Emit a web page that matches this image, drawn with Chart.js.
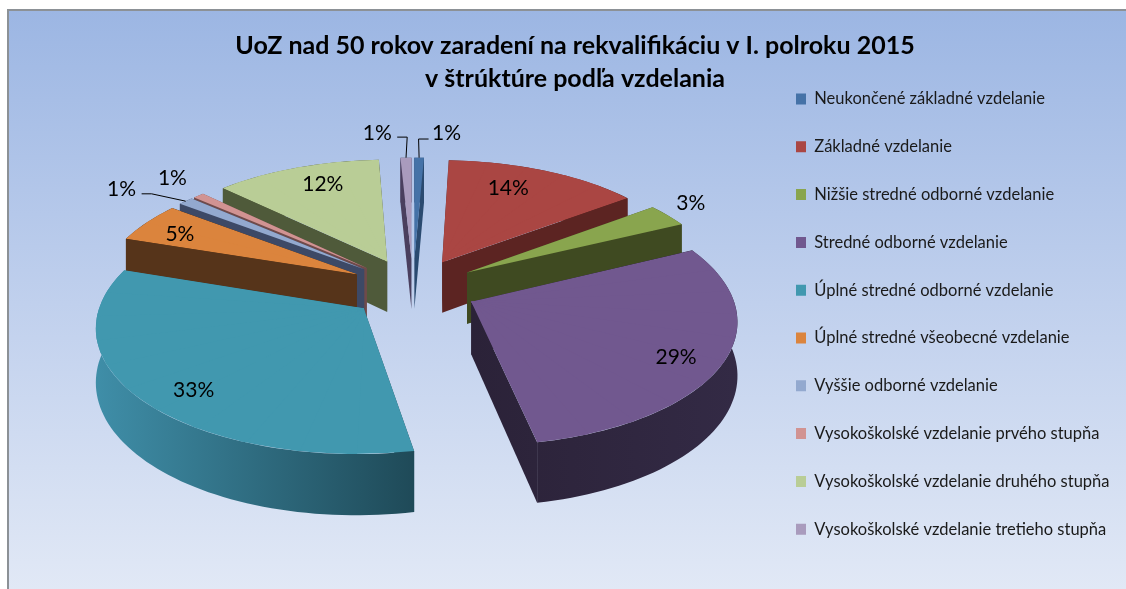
<!DOCTYPE html>
<html><head><meta charset="utf-8">
<style>html,body{margin:0;padding:0;background:#fff;overflow:hidden}#w{position:absolute;left:0;top:0;width:1126px;height:589px}</style>
<script src="https://cdn.jsdelivr.net/npm/chart.js@4"></script>
</head><body><div id="w"><canvas id="c"></canvas></div>
<script>
const categories=["Neukončené základné vzdelanie","Základné vzdelanie","Nižšie stredné odborné vzdelanie","Stredné odborné vzdelanie","Úplné stredné odborné vzdelanie","Úplné stredné všeobecné vzdelanie","Vyššie odborné vzdelanie","Vysokoškolské vzdelanie prvého stupňa","Vysokoškolské vzdelanie druhého stupňa","Vysokoškolské vzdelanie tretieho stupňa"];
const values=[0.7,14.1,3.1,29.2,33.2,5.3,1.1,0.8,12.0,0.8];
const titleLines=["UoZ nad 50 rokov zaradení na rekvalifikáciu v I. polroku 2015","v štrúktúre podľa vzdelania"];
const topColors=["#4572A7","#AA4643","#89A54E","#71588F","#4198AF","#DB843D","#93A9CF","#D19392","#B9CD96","#A99BBD"];
const wallFrom=["#2a4a70","#5c2422","#3f4a21","#2b2238","#3f8ea8","#56341a","#3d4966","#6f4a4a","#4f5a3a","#4a3f5e"];
const wallTo=["#2a4a70","#5c2422","#3f4a21","#332a45","#1f4a58","#56341a","#3d4966","#6f4a4a","#4f5a3a","#4a3f5e"];
const labelReach=[1.55,1.02,1.42,1.08,1.07,1.07,1.56,1.48,1.05,1.55];
const labelTurn=[4.5,-4,-2.4,2,-3,-1,-3,2,2.5,-4.7];
const leaders={0:[-18,7,-10],9:[20,5,10],6:[20,5.7,10]};

const view={cx:413,cy:288,tilt:0.47,dist:2000,radius:258,explode:64,depth:52,stretch:1.004};
function persp(z){return 1/(1-z/view.dist);}
function project(x,z){const s=persp(z);return {x:view.cx+view.stretch*x*s,y:view.cy+z*view.tilt*s,s};}
function groundOf(el,r,ang){const mid=(el.startAngle+el.endAngle)/2;
  return {x:view.explode*Math.cos(mid)+r*Math.cos(ang),z:view.explode*Math.sin(mid)+r*Math.sin(ang)};}
function rimPoint(el,ang,k=1){const g=groundOf(el,view.radius*k,ang),p=project(g.x,g.z);return {x:p.x,y:p.y,z:g.z};}
function pieceAffine(el,a0,a1){
  const g0=groundOf(el,0,0),A=project(g0.x,g0.z),S=rimPoint(el,a0),E=rimPoint(el,a1),L=el.outerRadius;
  const ax=L*Math.cos(a0),ay=L*Math.sin(a0),bx=L*Math.cos(a1),by=L*Math.sin(a1),d=ax*by-bx*ay;
  const sx=S.x-A.x,sy=S.y-A.y,ex=E.x-A.x,ey=E.y-A.y;
  return {a:(sx*by-ex*ay)/d,c:(ex*ax-sx*bx)/d,b:(sy*by-ey*ay)/d,d:(ey*ax-sy*bx)/d,A};
}
function rimPoints(el){
  const n=Math.max(3,Math.ceil((el.endAngle-el.startAngle)/0.03)),out=[];
  for(let i=0;i<=n;i++)out.push(rimPoint(el,el.startAngle+(el.endAngle-el.startAngle)*i/n));
  return out;
}
function drawTop(ctx,el){
  const span=el.endAngle-el.startAngle,n=Math.max(1,Math.ceil(span/0.2)),step=span/n,g0=groundOf(el,0,0),A=project(g0.x,g0.z);
  for(let i=0;i<n;i++){
    const a0=el.startAngle+i*step,a1=a0+step,m=pieceAffine(el,a0,a1);
    ctx.save();
    if(n>1){
      const pad=i<n-1?0.025:0,c0=rimPoint(el,a0,1.15),cm=rimPoint(el,(a0+a1)/2,1.15),c1=rimPoint(el,a1+pad,1.15);
      const bx=A.x-(cm.x-A.x)*0.03,by=A.y-(cm.y-A.y)*0.03;
      ctx.beginPath();ctx.moveTo(bx,by);ctx.lineTo(c0.x,c0.y);ctx.lineTo(cm.x,cm.y);ctx.lineTo(c1.x,c1.y);ctx.closePath();ctx.clip();
    }
    ctx.transform(m.a,m.b,m.c,m.d,A.x-(m.a*el.x+m.c*el.y),A.y-(m.b*el.x+m.d*el.y));
    el.draw(ctx);
    ctx.restore();
  }
}
function drawWalls(ctx,el,i){
  const g0=groundOf(el,0,0),A=project(g0.x,g0.z),rim=rimPoints(el);
  const xs=rim.map(p=>p.x).concat(A.x);
  const gr=ctx.createLinearGradient(Math.min(...xs),0,Math.max(...xs),0);
  gr.addColorStop(0,wallFrom[i]);gr.addColorStop(1,wallTo[i]);
  const drop=(z)=>view.depth*persp(z);
  ctx.save();ctx.fillStyle=gr;
  [rim[0],rim[rim.length-1]].forEach(p=>{
    ctx.beginPath();ctx.moveTo(A.x,A.y);ctx.lineTo(p.x,p.y);ctx.lineTo(p.x,p.y+drop(p.z));ctx.lineTo(A.x,A.y+drop(g0.z));ctx.closePath();ctx.fill();});
  ctx.beginPath();
  rim.forEach((p,k)=>k?ctx.lineTo(p.x,p.y):ctx.moveTo(p.x,p.y));
  for(let k=rim.length-1;k>=0;k--)ctx.lineTo(rim[k].x,rim[k].y+drop(rim[k].z));
  ctx.closePath();ctx.fill();
  ctx.restore();
}
const pie3d={id:'pie3d',
  beforeDraw(ch){const {ctx,width,height}=ch;
    ctx.save();const g=ctx.createLinearGradient(0,10,0,height+8);
    g.addColorStop(0,'#9cb6e3');g.addColorStop(0.5,'#c0d0ed');g.addColorStop(1,'#e2e9f6');
    ctx.fillStyle=g;ctx.fillRect(8,10,width-8,height-10);
    ctx.strokeStyle='#8c9196';ctx.lineWidth=2;ctx.beginPath();ctx.moveTo(8,height);ctx.lineTo(8,10);ctx.lineTo(width,10);ctx.stroke();ctx.restore();},
  afterLayout(ch){const l=ch.legend,p=l.options.labels.padding;l.left=796-p;l.top=99-8.25-p;l.adjustHitBoxes();},
  beforeDatasetsDraw(ch){
    const {ctx}=ch,arcs=ch.getDatasetMeta(0).data;
    const order=arcs.map((el,i)=>i).sort((p,q)=>groundOf(arcs[p],0,0).z-groundOf(arcs[q],0,0).z);
    order.forEach(i=>{drawWalls(ctx,arcs[i],i);drawTop(ctx,arcs[i]);});
    return false;
  },
  afterDraw(ch){
    const {ctx}=ch,arcs=ch.getDatasetMeta(0).data,total=values.reduce((a,b)=>a+b,0);
    ctx.save();ctx.fillStyle='#000';ctx.font='21px Lato';ctx.textAlign='center';ctx.textBaseline='middle';
    arcs.forEach((el,i)=>{
      const mm=(el.startAngle+el.endAngle)/2,mid=mm+labelTurn[i]*Math.PI/180;
      const r=labelReach[i]*view.radius;
      const p=project(r*Math.cos(mid),r*Math.sin(mid));
      ctx.fillText(Math.round(values[i]/total*100)+'%',p.x,p.y+1.5);
      if(leaders[i]){const [dx,dy,el2]=leaders[i];
        const t=rimPoint(el,mm);
        ctx.save();ctx.strokeStyle='#000';ctx.lineWidth=1;ctx.beginPath();
        const ex=p.x+dx+el2,ey=p.y+dy;
        ctx.moveTo(t.x,t.y);ctx.lineTo(ex,ey);ctx.lineTo(p.x+dx,ey);ctx.stroke();ctx.restore();}
    });
    ctx.restore();
  }
};
new Chart(document.getElementById('c'),{
  type:'pie',
  data:{labels:categories,datasets:[{data:values,backgroundColor:topColors,borderWidth:0,hoverOffset:0}]},
  plugins:[pie3d],
  options:{responsive:true,maintainAspectRatio:false,animation:false,
    layout:{padding:{left:24,top:29}},
    plugins:{
      title:{display:true,text:titleLines,color:'#000',font:{family:'Lato',size:25,weight:'bold',lineHeight:1.32},padding:0},
      legend:{position:'right',align:'start',labels:{boxWidth:10,boxHeight:11,padding:31.3,color:'#1a1a1a',font:{family:'Lato',size:16.5,lineHeight:1.2}}},
      tooltip:{enabled:false}
    }
  }
});
</script></body></html>
